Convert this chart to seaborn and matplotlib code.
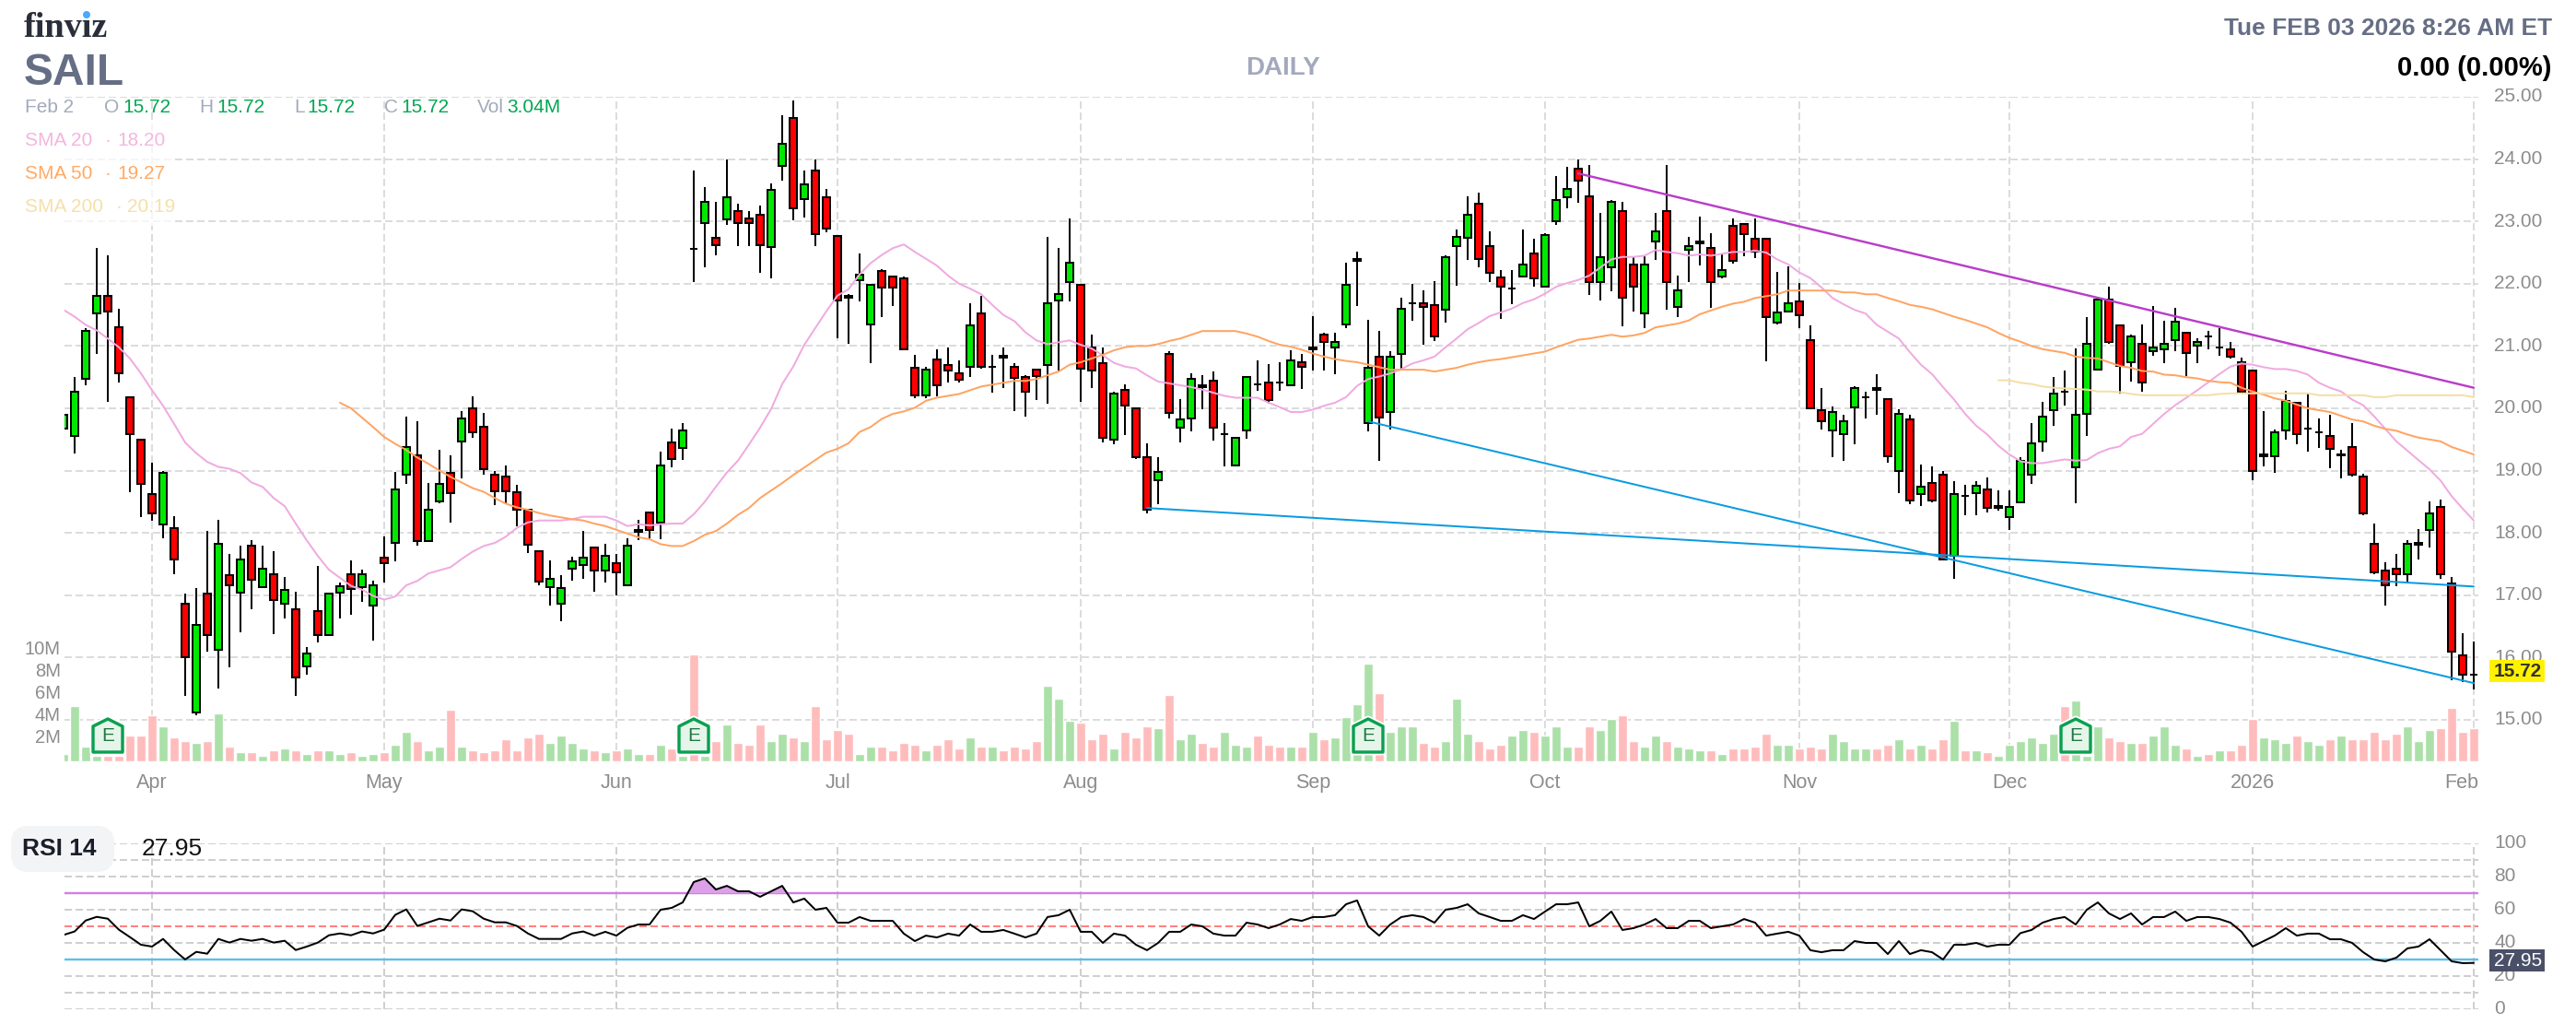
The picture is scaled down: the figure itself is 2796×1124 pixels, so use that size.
import numpy as np
import pandas as pd
import matplotlib
matplotlib.use('Agg')
import matplotlib.pyplot as plt
import matplotlib.patheffects as pe
from matplotlib.patches import Polygon, Rectangle, FancyBboxPatch, Circle
from matplotlib.transforms import ScaledTranslation, IdentityTransform
import seaborn as sns

# Daily prices
OPEN = [
    19.67,19.56,20.47,21.53,21.80,21.30,20.18,19.50,18.62,18.14,
    18.08,16.87,15.12,17.02,16.13,17.32,17.04,17.79,17.13,17.34,
    16.87,16.78,15.86,16.75,16.36,17.04,17.34,17.13,16.84,17.61,
    17.84,18.94,19.24,17.87,18.51,18.97,19.47,20.00,19.71,18.94,
    18.91,18.65,18.38,17.70,17.13,16.87,17.43,17.49,17.76,17.40,
    17.52,17.16,18.05,18.33,18.17,19.46,19.37,22.56,22.97,22.74,
    23.03,23.16,23.04,23.10,22.59,23.89,24.66,23.36,23.81,23.39,
    22.77,21.80,22.06,21.35,22.21,22.12,22.09,20.65,20.20,20.79,
    20.70,20.56,20.67,21.53,20.67,20.85,20.67,20.50,20.62,20.70,
    21.73,22.03,21.98,20.97,20.73,19.49,20.29,20.00,19.21,18.85,
    20.88,19.69,19.84,20.37,20.44,19.58,19.09,19.64,20.38,20.41,
    20.41,20.37,20.74,20.97,21.18,20.97,21.35,22.40,19.76,20.83,
    19.94,20.88,21.68,21.68,21.66,21.59,22.60,22.74,23.28,22.60,
    22.10,21.92,22.12,22.48,21.95,23.01,23.39,23.84,23.40,22.03,
    22.27,23.16,22.31,21.53,22.68,23.16,21.62,22.54,22.68,22.57,
    22.12,22.93,22.96,22.72,22.72,21.38,21.56,21.71,21.09,19.97,
    19.64,19.58,20.02,20.18,20.32,20.15,19.00,19.82,18.62,18.80,
    18.94,17.63,18.59,18.64,18.70,18.43,18.26,18.49,18.94,19.47,
    19.97,20.27,19.05,19.91,20.62,21.75,21.33,20.74,21.04,20.92,
    20.95,21.09,21.22,21.00,21.16,20.98,20.95,20.74,20.60,19.26,
    19.23,19.65,20.09,19.67,19.62,19.56,19.26,19.38,18.91,17.82,
    17.40,17.43,17.34,17.84,18.05,18.41,17.19,16.03,15.72]
CLOSE = [
    19.89,20.27,21.25,21.80,21.56,20.56,19.59,18.79,18.32,18.97,
    17.58,16.01,16.52,16.36,17.82,17.16,17.58,17.25,17.43,16.93,
    17.08,15.68,16.07,16.36,17.02,17.14,17.10,17.34,17.16,17.52,
    18.70,19.38,17.87,18.38,18.79,18.64,19.83,19.62,19.02,18.67,
    18.67,18.37,17.81,17.22,17.26,17.11,17.55,17.61,17.40,17.64,
    17.37,17.79,18.02,18.05,19.09,19.19,19.64,22.56,23.31,22.62,
    23.39,22.98,22.98,22.62,23.51,24.25,23.21,23.60,22.80,22.88,
    21.73,21.77,22.15,21.98,21.94,21.94,20.94,20.20,20.62,20.37,
    20.61,20.46,21.33,20.67,20.67,20.82,20.49,20.26,20.52,21.68,
    21.83,22.33,20.64,20.61,19.52,20.23,20.05,19.22,18.37,18.98,
    19.93,19.82,20.47,20.34,19.69,19.58,19.52,20.50,20.38,20.14,
    20.41,20.77,20.67,20.94,21.06,21.06,21.98,22.37,20.65,19.85,
    20.83,21.60,21.68,21.62,21.15,22.42,22.75,23.10,22.39,22.18,
    21.95,21.92,22.31,22.09,22.78,23.34,23.52,23.66,22.03,22.42,
    23.31,21.77,21.95,22.31,22.84,22.03,21.89,22.60,22.65,22.03,
    22.22,22.36,22.80,22.51,21.47,21.54,21.68,21.50,20.00,19.79,
    19.94,19.79,20.33,20.18,20.29,19.23,19.91,18.52,18.74,18.52,
    17.57,18.62,18.59,18.76,18.40,18.40,18.41,19.15,19.44,19.86,
    20.24,20.27,19.89,21.04,21.75,21.06,20.68,21.16,20.41,20.98,
    21.04,21.39,20.89,21.07,21.16,20.98,20.83,20.27,19.00,19.23,
    19.62,20.12,19.59,19.67,19.62,19.35,19.24,18.93,18.32,17.37,
    17.16,17.34,17.82,17.81,18.32,17.34,16.09,15.73,15.72]
HIGH = [
    19.89,20.51,21.28,22.58,22.46,21.60,20.18,19.50,19.12,19.00,
    18.27,17.02,17.11,18.03,18.21,17.67,17.79,17.88,17.79,17.70,
    17.29,17.05,16.17,17.47,17.02,17.20,17.56,17.41,17.23,17.94,
    18.98,19.86,19.80,18.80,19.33,19.24,19.95,20.19,19.92,19.00,
    19.09,18.77,18.38,17.70,17.56,17.32,17.62,18.03,17.76,17.82,
    17.67,17.91,18.21,18.33,19.31,19.68,19.76,23.81,23.55,23.31,
    23.99,23.28,23.16,23.25,23.61,24.70,24.94,23.81,23.99,23.52,
    22.77,21.83,22.48,22.00,22.24,22.12,22.12,20.86,20.67,20.95,
    20.98,20.77,21.68,21.80,20.86,20.98,20.73,20.53,20.62,22.75,
    22.57,23.04,22.00,21.18,20.98,20.26,20.38,20.00,19.44,19.22,
    20.91,20.15,20.56,20.53,20.59,19.76,19.52,20.50,20.77,20.71,
    20.74,20.93,20.87,21.48,21.21,21.21,22.34,22.52,21.42,21.25,
    20.92,21.78,21.99,21.90,22.04,22.45,22.87,23.40,23.46,22.84,
    22.22,22.22,22.87,22.72,22.81,23.73,23.88,24.00,23.91,23.14,
    23.34,23.32,22.43,22.46,23.14,23.91,22.13,22.75,23.08,22.81,
    22.49,23.05,22.96,23.05,22.72,22.19,22.28,22.01,21.33,20.33,
    20.03,19.89,20.35,20.27,20.54,20.15,19.98,19.89,19.10,19.07,
    19.00,18.83,18.77,18.83,18.89,18.68,18.68,19.21,19.77,20.10,
    20.51,20.60,20.96,21.46,21.75,21.96,21.33,21.19,21.34,21.64,
    21.40,21.61,21.22,21.13,21.25,21.28,21.07,20.81,20.60,19.95,
    19.66,20.28,20.09,20.25,19.83,19.89,19.33,19.77,18.95,18.15,
    17.53,17.67,17.88,18.06,18.50,18.53,17.29,16.39,16.25]
LOW = [
    19.67,19.28,20.37,20.88,20.11,20.42,18.66,18.25,18.19,17.92,
    17.33,15.38,15.08,16.09,15.50,15.85,16.41,16.77,17.13,16.38,
    16.62,15.38,15.73,16.24,16.36,16.62,16.68,16.89,16.27,17.21,
    17.54,18.78,17.80,17.87,18.48,18.16,18.87,19.52,18.93,18.45,
    18.46,18.10,17.68,17.16,16.83,16.59,17.24,17.27,17.06,17.21,
    17.00,17.16,17.89,17.92,17.90,19.05,19.17,22.02,22.26,22.46,
    22.94,22.61,22.61,22.17,22.08,23.65,23.02,23.06,22.61,22.82,
    21.13,21.04,21.72,20.72,21.46,21.64,20.94,20.16,20.16,20.19,
    20.42,20.42,20.51,20.63,20.25,20.33,19.95,19.86,20.13,20.07,
    20.60,21.72,20.10,20.33,19.45,19.42,19.57,19.18,18.32,18.46,
    19.83,19.45,19.63,19.98,19.48,19.07,19.09,19.51,20.28,20.07,
    20.28,20.37,20.31,20.61,20.61,20.55,21.29,21.64,19.63,19.16,
    19.66,20.62,21.40,21.02,21.08,21.37,21.97,22.38,22.26,22.02,
    21.43,21.67,22.12,21.96,21.95,22.94,23.21,23.30,21.82,21.73,
    21.88,21.32,21.55,21.29,22.38,21.58,21.46,22.02,22.29,21.61,
    22.09,22.32,22.44,22.41,20.75,21.34,21.56,21.29,20.00,19.66,
    19.22,19.16,19.42,19.84,19.90,19.13,18.64,18.46,18.43,18.49,
    17.57,17.27,18.28,18.28,18.33,18.36,18.04,18.49,18.78,19.31,
    19.72,20.05,18.48,19.55,20.62,21.03,20.23,20.43,20.26,20.85,
    20.73,20.91,20.52,20.73,20.94,20.85,20.80,20.23,18.84,19.07,
    18.96,19.49,19.43,19.31,19.37,19.04,18.87,18.90,18.28,17.33,
    16.83,17.15,17.21,17.57,17.77,17.27,15.64,15.61,15.49]

# Volume in millions, g = up day, p = down day
VOLUME = [
    .67,5.0,1.33,.5,.5,.5,2.33,2.33,4.17,3.17,
    2.17,1.83,1.67,1.83,4.33,1.33,.83,.83,.5,1.0,
    1.17,1.0,.67,1.0,1.0,.67,.83,.5,.67,.83,
    1.5,2.67,1.83,1.0,1.33,4.67,1.33,1.0,.83,1.0,
    2.0,1.0,2.17,2.5,1.67,2.33,1.67,1.17,1.0,.83,
    1.0,1.17,.67,.67,1.5,1.17,.5,9.67,.5,1.83,
    3.33,1.67,1.5,3.33,1.83,2.5,2.17,1.83,5.0,2.0,
    2.83,2.5,.67,1.33,1.33,1.0,1.67,1.5,1.0,1.5,
    2.0,1.17,2.17,1.33,1.33,1.0,1.33,1.17,1.83,6.83,
    5.67,3.67,3.5,2.0,2.5,1.17,2.67,2.17,3.17,3.0,
    6.0,2.0,2.5,1.67,1.33,2.67,1.5,1.33,2.33,1.5,
    1.33,1.33,1.33,2.67,2.0,2.17,4.0,5.17,8.83,6.17,
    2.67,3.17,3.17,1.67,1.33,1.83,5.67,2.5,1.83,1.17,
    1.5,2.33,2.83,2.67,2.33,3.17,1.33,1.33,3.17,2.83,
    3.83,4.17,1.83,1.33,2.33,1.83,1.33,1.17,1.0,1.0,
    .67,1.17,1.17,1.33,2.5,1.5,1.5,1.17,1.33,1.17,
    2.5,1.83,1.17,1.17,1.17,1.5,2.0,1.17,1.5,1.17,
    2.0,3.67,1.0,1.0,.83,.5,1.5,1.83,2.17,1.67,
    2.5,5.0,5.5,.5,3.17,2.17,1.83,1.67,1.67,2.33,
    3.17,1.5,1.17,.5,.67,1.0,1.0,1.5,3.83,2.17,
    2.0,1.67,2.33,1.83,1.5,2.0,2.33,2.0,2.0,2.67,
    2.0,2.5,3.17,1.83,2.83,3.0,4.83,2.67,3.04]
VOL_DIR = list(
    'ggggpppppg' 'ppgpgpgpgp' 'gpgpggpggp' 'ggpggpgppp' 'ppppggggpg'
    'pggpgpgpgp' 'gpppggpgpp' 'ppggppppgp' 'ppgpgppppg' 'ggpppgpppg'
    'pggppgggpp' 'pgpgpggggp' 'gggppgggpp' 'pggpgggppg' 'gppggpgggp'
    'gppppggppp' 'ggggppgpgp' 'pgpgpggggg' 'gpgggppgpg' 'ggpgpgpppg'
    'ggpggpgppp' 'ppgggpppp')

SMA20 = [
    21.58,21.47,21.34,21.25,21.12,20.98,20.80,20.56,20.29,20.04,
    19.75,19.45,19.28,19.14,19.06,19.03,18.96,18.81,18.74,18.56,
    18.43,18.15,17.88,17.63,17.41,17.28,17.15,17.09,16.99,16.93,
    16.98,17.16,17.23,17.35,17.40,17.45,17.58,17.70,17.79,17.84,
    17.94,18.08,18.17,18.20,18.20,18.20,18.22,18.26,18.26,18.26,
    18.20,18.11,18.14,18.12,18.14,18.15,18.15,18.30,18.50,18.74,
    18.97,19.16,19.42,19.69,19.99,20.39,20.67,21.02,21.29,21.56,
    21.81,21.91,22.15,22.33,22.46,22.57,22.63,22.51,22.40,22.29,
    22.13,22.00,21.92,21.83,21.66,21.50,21.40,21.22,21.09,21.03,
    21.06,21.09,21.02,20.96,20.85,20.73,20.67,20.64,20.53,20.43,
    20.40,20.37,20.34,20.30,20.25,20.20,20.17,20.17,20.17,20.09,
    20.02,19.94,19.94,19.98,20.04,20.09,20.18,20.36,20.47,20.51,
    20.56,20.63,20.72,20.77,20.83,20.98,21.12,21.27,21.37,21.48,
    21.54,21.60,21.69,21.75,21.84,21.95,22.01,22.06,22.13,22.26,
    22.39,22.43,22.43,22.45,22.54,22.51,22.49,22.45,22.47,22.45,
    22.48,22.51,22.51,22.53,22.50,22.39,22.31,22.18,22.09,21.94,
    21.77,21.67,21.58,21.52,21.34,21.23,21.12,20.90,20.70,20.55,
    20.34,20.14,19.91,19.72,19.58,19.40,19.26,19.15,19.12,19.12,
    19.15,19.18,19.16,19.17,19.28,19.35,19.39,19.54,19.59,19.75,
    19.91,20.05,20.17,20.29,20.42,20.55,20.67,20.72,20.70,20.66,
    20.63,20.63,20.60,20.54,20.41,20.33,20.27,20.14,20.05,19.87,
    19.67,19.47,19.32,19.17,19.02,18.84,18.59,18.39,18.20]
SMA50_START = 25
SMA50 = [
    20.09,20.00,19.85,19.70,19.54,
    19.43,19.33,19.21,19.11,19.00,18.90,18.81,18.72,18.66,18.56,
    18.47,18.41,18.37,18.32,18.28,18.25,18.22,18.20,18.15,18.11,
    18.05,17.99,17.93,17.90,17.82,17.79,17.79,17.87,17.97,18.03,
    18.15,18.29,18.40,18.56,18.68,18.80,18.93,19.05,19.17,19.29,
    19.35,19.44,19.62,19.70,19.83,19.91,19.95,20.01,20.12,20.17,
    20.20,20.23,20.29,20.35,20.38,20.41,20.44,20.44,20.47,20.53,
    20.59,20.70,20.74,20.80,20.86,20.93,20.98,21.00,21.00,21.03,
    21.08,21.12,21.18,21.24,21.24,21.24,21.24,21.20,21.15,21.08,
    21.02,20.99,20.94,20.88,20.83,20.79,20.76,20.74,20.70,20.66,
    20.62,20.62,20.62,20.62,20.59,20.62,20.65,20.70,20.74,20.77,
    20.79,20.82,20.85,20.88,20.91,20.98,21.04,21.10,21.12,21.15,
    21.18,21.15,21.17,21.21,21.30,21.33,21.36,21.41,21.51,21.57,
    21.63,21.68,21.71,21.77,21.80,21.83,21.89,21.89,21.89,21.89,
    21.89,21.86,21.86,21.83,21.83,21.77,21.72,21.66,21.63,21.59,
    21.53,21.47,21.42,21.36,21.30,21.21,21.13,21.07,21.00,20.95,
    20.92,20.89,20.83,20.81,20.80,20.74,20.68,20.65,20.60,20.59,
    20.54,20.53,20.50,20.48,20.44,20.42,20.41,20.33,20.27,20.22,
    20.16,20.12,20.06,20.00,19.97,19.94,19.88,19.82,19.79,19.72,
    19.67,19.64,19.58,19.53,19.50,19.47,19.38,19.32,19.26]
SMA200_START = 175
SMA200 = [
    20.45,20.45,20.41,20.39,20.35,
    20.33,20.32,20.31,20.30,20.27,20.27,20.26,20.23,20.21,20.21,
    20.21,20.21,20.21,20.21,20.21,20.23,20.24,20.24,20.24,20.24,
    20.24,20.24,20.24,20.24,20.21,20.21,20.21,20.21,20.21,20.18,
    20.18,20.21,20.21,20.21,20.21,20.21,20.21,20.21,20.18]
RSI = [
    44.8,46.9,53.5,55.7,54.6,48.0,43.5,38.9,37.8,42.4,
    35.7,30.0,34.6,33.5,42.4,40.2,42.4,41.3,42.4,40.2,
    41.3,35.7,37.8,40.2,44.6,45.7,44.6,46.9,45.7,48.0,
    56.9,60.2,50.2,52.4,54.6,53.5,60.2,59.1,54.6,52.4,
    52.4,50.2,45.7,42.4,42.4,42.4,45.7,46.9,44.4,46.7,
    44.4,49.1,51.1,51.1,60.0,61.1,64.4,76.7,78.9,72.2,
    74.4,71.1,71.1,67.8,71.1,74.4,64.4,66.7,60.0,61.1,
    52.2,52.2,55.6,53.3,53.3,53.3,45.6,41.1,44.4,43.3,
    45.6,44.4,51.1,46.7,46.7,47.8,45.6,43.3,45.6,55.6,
    56.7,60.0,46.7,46.7,40.0,45.6,44.4,38.9,35.6,40.0,
    46.7,46.7,51.1,50.0,45.6,44.4,44.4,52.2,51.1,48.9,
    51.1,54.4,53.3,55.6,55.6,56.7,63.3,65.6,50.0,44.4,
    51.1,55.6,56.7,55.6,52.2,60.0,61.1,63.3,57.8,55.6,
    53.3,53.3,56.7,54.4,58.9,63.3,63.3,64.4,50.0,53.3,
    58.9,47.8,48.9,51.1,54.4,48.9,48.9,53.3,53.3,48.9,
    50.0,51.1,54.4,52.2,44.4,45.6,46.7,44.4,35.6,34.4,
    35.6,35.6,41.1,40.0,40.0,33.3,41.1,33.3,35.6,34.4,
    30.0,38.9,38.9,40.0,37.8,38.9,38.9,45.9,47.8,52.2,
    54.4,55.6,51.1,60.0,64.4,57.8,54.4,57.8,51.1,55.6,
    55.6,58.9,53.3,55.6,55.6,54.4,52.2,46.7,37.8,41.1,
    44.4,48.9,44.4,45.6,45.6,42.2,42.2,40.0,34.4,30.0,
    28.9,31.1,36.7,37.8,42.2,35.6,28.9,27.8,27.95]

# Trend lines drawn on the chart: bar index and price at each end
TREND_PURPLE = ([137, 218], [23.77, 20.33])
TREND_BLUE_A = ([98, 218], [18.40, 17.14])
TREND_BLUE_B = ([118, 218], [19.79, 15.59])

MONTH_IDX = [8, 29, 50, 70, 92, 113, 134, 157, 176, 198, 218]
MONTH_LABELS = ['Apr', 'May', 'Jun', 'Jul', 'Aug', 'Sep', 'Oct', 'Nov', 'Dec', '2026', 'Feb']
EARNINGS_IDX = [4, 57, 118, 182]
PRICE_TICKS = [15, 16, 17, 18, 19, 20, 21, 22, 23, 24, 25]
VOL_TICKS = [2, 4, 6, 8, 10]
RSI_TICKS = [0, 10, 20, 30, 40, 50, 60, 70, 80, 90, 100]

W, H = 2796, 1124
GREEN, RED = '#00e800', '#ff0000'
GRAY = '#8c8c8c'

sns.set_theme(style='white')
plt.rcParams['font.family'] = ['Liberation Sans', 'DejaVu Sans']
plt.rcParams['lines.scale_dashes'] = False

df = pd.DataFrame({'open': OPEN, 'high': HIGH, 'low': LOW, 'close': CLOSE,
                   'volume': VOLUME, 'dir': VOL_DIR, 'sma20': SMA20, 'rsi': RSI})
df['i'] = np.arange(len(df))


def pt(px):
    return px * 0.72


def rect(x0, y0, x1, y1):
    # axes rectangle from pixel edges, y measured from the top
    return [x0 / W, 1 - y1 / H, (x1 - x0) / W, (y1 - y0) / H]


def fx(x):
    return x / W


def fy(y):
    return 1 - y / H


def shift(ax_labels, dx, dy, fig):
    off = ScaledTranslation(dx / 100, dy / 100, fig.dpi_scale_trans)
    for t in ax_labels:
        t.set_transform(t.get_transform() + off)


fig = plt.figure(figsize=(W / 100, H / 100), dpi=100, facecolor='white')
main = rect(70, 105, 2690, 826)
xlim = (1 / 12, 2621 / 12)
ylim_price = (25 - 721 / 67.6, 25)
dash = (0, (pt(8), pt(4)))

# Grid layer under the volume bars
ax_grid = fig.add_axes(main, zorder=0)
ax_grid.grid(True, color='#dcdcdc', linewidth=pt(2), linestyle=dash)
ax_grid.set_axisbelow(True)

# Volume layer
ax_vol = fig.add_axes(main, zorder=1)
ax_vol.patch.set_visible(False)
sns.barplot(data=df, x='i', y='volume', hue='dir', palette={'g': '#abe0a8', 'p': '#ffbcbc'},
            native_scale=True, dodge=False, width=0.85, saturation=1, legend=False, ax=ax_vol)
ax_vol.set_ylim(0, 721 / 12)
ax_vol.set_yticks(VOL_TICKS)
ax_vol.set_yticklabels([f'{v}M' for v in VOL_TICKS], fontsize=14.5, color=GRAY)
ax_vol.tick_params(axis='y', length=0, pad=pt(4))
ax_vol.set_xticks([])
ax_vol.set_xlabel('')
ax_vol.set_ylabel('')
shift(ax_vol.get_yticklabels(), 0, 4, fig)

# Candles
ax = fig.add_axes(main, zorder=2)
ax.patch.set_visible(False)
ax.vlines(df['i'], df['low'], df['high'], color='black', linewidth=pt(2), zorder=2)
body_bottom = df[['open', 'close']].min(axis=1)
body_height = (df['close'] - df['open']).abs()
colors = np.where(df['close'] >= df['open'], GREEN, RED)
ax.bar(df['i'], body_height, bottom=body_bottom, width=0.63, color=colors,
       edgecolor='black', linewidth=pt(2), zorder=3)

sns.lineplot(x=df['i'], y=df['sma20'], color='#f0aae0', linewidth=pt(2), ax=ax, zorder=4)
sns.lineplot(x=np.arange(len(SMA50)) + SMA50_START, y=SMA50, color='#ffa463', linewidth=pt(2), ax=ax, zorder=4)
sns.lineplot(x=np.arange(len(SMA200)) + SMA200_START, y=SMA200, color='#f5dfa6', linewidth=pt(2), ax=ax, zorder=4)
sns.lineplot(x=TREND_PURPLE[0], y=TREND_PURPLE[1], color='#b93cc9', linewidth=pt(2.4), ax=ax, zorder=5)
sns.lineplot(x=TREND_BLUE_A[0], y=TREND_BLUE_A[1], color='#0a9be0', linewidth=pt(2), ax=ax, zorder=5)
sns.lineplot(x=TREND_BLUE_B[0], y=TREND_BLUE_B[1], color='#0a9be0', linewidth=pt(2), ax=ax, zorder=5)

ax.yaxis.tick_right()
ax.set_yticks(PRICE_TICKS)
ax.set_yticklabels([f'{p:.2f}' for p in PRICE_TICKS], fontsize=15, color=GRAY)
ax.tick_params(axis='y', length=0, pad=pt(17))
ax.set_xticks([])
ax.set_xlabel('')
ax.set_ylabel('')
shift(ax.get_yticklabels(), 0, 2, fig)

ax_grid.set_yticks(PRICE_TICKS)
ax_grid.set_yticklabels([])
ax_grid.set_xticks(MONTH_IDX)
ax_grid.set_xticklabels(MONTH_LABELS, fontsize=15.5, color=GRAY)
ax_grid.tick_params(axis='x', length=0, pad=pt(13))
ax_grid.tick_params(axis='y', length=0)
feb = ax_grid.get_xticklabels()[-1]
feb.set_ha('right')
shift([feb], 5, 0, fig)

for a in (ax_grid, ax_vol, ax):
    a.set_xlim(*xlim)
    sns.despine(ax=a, left=True, bottom=True, right=True, top=True)
ax_grid.set_ylim(*ylim_price)
ax.set_ylim(*ylim_price)

# RSI pane
ax_rsi = fig.add_axes(rect(70, 915, 2690, 1095), zorder=2)
ax_rsi.patch.set_visible(False)
ax_rsi.grid(True, color='#cfcfcf', linewidth=pt(2), linestyle=dash)
ax_rsi.set_axisbelow(True)
ax_rsi.axhline(70, color='#d080e0', linewidth=pt(2.4), zorder=2)
ax_rsi.axhline(30, color='#62bce8', linewidth=pt(2.4), zorder=2)
ax_rsi.axhline(50, color='#ff8080', linewidth=pt(2), linestyle=dash, zorder=2)
rsi = np.array(RSI)
ax_rsi.fill_between(df['i'], 70, rsi, where=rsi > 70, interpolate=True, color='#dca0e8', linewidth=0, zorder=2)
sns.lineplot(x=df['i'], y=rsi, color='black', linewidth=pt(2), ax=ax_rsi, zorder=4)
ax_rsi.set_xlim(*xlim)
ax_rsi.set_ylim(0, 100)
ax_rsi.yaxis.tick_right()
ax_rsi.set_yticks(RSI_TICKS)
ax_rsi.set_yticklabels([str(v) if v % 20 == 0 else '' for v in RSI_TICKS], fontsize=15, color=GRAY)
ax_rsi.set_xticks(MONTH_IDX)
ax_rsi.set_xticklabels([])
ax_rsi.tick_params(length=0, pad=pt(17))
ax_rsi.set_xlabel('')
ax_rsi.set_ylabel('')
shift(ax_rsi.get_yticklabels(), 0, 2, fig)
sns.despine(ax=ax_rsi, left=True, bottom=True, right=True, top=True)

# Earnings badges
fig.canvas.draw()
for i in EARNINGS_IDX:
    cx = ax.transData.transform((i, 20))[0]
    verts = [(cx - 16, H - 816), (cx + 16, H - 816), (cx + 16, H - 788), (cx, H - 780), (cx - 16, H - 788)]
    badge = Polygon(verts, closed=True, facecolor='#e6f5ea', edgecolor='#0aa050', linewidth=pt(3.4),
                    joinstyle='round', transform=IdentityTransform(), zorder=6,
                    path_effects=[pe.withStroke(linewidth=pt(7), foreground='white')])
    fig.add_artist(badge)
    fig.text(cx / W, fy(799), 'E', fontsize=15, color='#1f7a42', ha='center', va='center', zorder=7)

# Header text
fig.text(fx(26), fy(40), 'finviz', family='Liberation Serif', fontweight='bold', fontsize=27.5,
         color='#2a2e3a', va='baseline', zorder=10)
fig.add_artist(Circle((94, H - 16), 4, facecolor='#4aa8ff', edgecolor='none',
                      transform=IdentityTransform(), zorder=11))
fig.text(fx(26), fy(92), 'SAIL', fontweight='bold', fontsize=34.5, color='#666e85', va='baseline', zorder=10)
fig.text(fx(1392), fy(81), 'DAILY', fontweight='bold', fontsize=20, color='#a3a9bd', ha='center', va='baseline', zorder=10)
fig.text(fx(2770), fy(38), 'Tue FEB 03 2026 8:26 AM ET', fontweight='bold', fontsize=19, color='#666e85',
         ha='right', va='baseline', zorder=10)
fig.text(fx(2769), fy(82), '0.00 (0.00%)', fontweight='bold', fontsize=21, color='black',
         ha='right', va='baseline', zorder=10)

# Legend rows, with the washed out background behind them
fig.add_artist(Rectangle((70, H - 245), 120, 113, facecolor='white', alpha=0.72, edgecolor='none',
                         transform=IdentityTransform(), zorder=8))
LABEL, NUM = '#a3a9bd', '#00a651'
for x, s, c in [(27, 'Feb 2', LABEL), (112.5, 'O', LABEL), (133, '15.72', NUM), (216.5, 'H', LABEL),
                (235, '15.72', NUM), (319, 'L', LABEL), (333, '15.72', NUM), (416.5, 'C', LABEL),
                (435, '15.72', NUM), (518, 'Vol', LABEL), (550, '3.04M', NUM)]:
    fig.text(fx(x), fy(117), s, fontsize=15, color=c, va='center', zorder=10)
for y, name, dotx, valx, val, c in [(153, 'SMA 20', 114, 127, '18.20', '#f5b5e0'),
                                    (189, 'SMA 50', 114, 127, '19.27', '#ffaa66'),
                                    (225, 'SMA 200', 125, 138, '20.19', '#f5e0a8')]:
    fig.text(fx(27), fy(y), name, fontsize=15, color=c, va='center', zorder=10)
    fig.text(fx(dotx), fy(y), '·', fontsize=15, color=c, va='center', zorder=10)
    fig.text(fx(valx), fy(y), val, fontsize=15, color=c, va='center', zorder=10)

# Last price and last RSI tags
fig.add_artist(Rectangle((2702, H - 740), 60, 24, facecolor='#fff200', edgecolor='none',
                         transform=IdentityTransform(), zorder=8))
fig.text(fx(2707), fy(728), '15.72', fontsize=15, fontweight='bold', color='#333333', va='center', zorder=10)
fig.add_artist(Rectangle((2702, H - 1054), 60, 24, facecolor='#4a5068', edgecolor='none',
                         transform=IdentityTransform(), zorder=8))
fig.text(fx(2707), fy(1042), '27.95', fontsize=15, color='white', va='center', zorder=10)

# RSI caption
fig.add_artist(FancyBboxPatch((20, H - 938), 96, 34, boxstyle='round,pad=0,rounding_size=10',
                              mutation_aspect=1, facecolor='#f3f4f6', edgecolor='#f3f4f6', linewidth=pt(16),
                              transform=IdentityTransform(), zorder=8))
fig.text(fx(24.5), fy(921), 'RSI 14', fontsize=19, fontweight='bold', color='#1a1e2a', va='center', zorder=10)
fig.text(fx(154), fy(921), '27.95', fontsize=19, color='#111111', va='center', zorder=10)

fig.savefig('out.png', dpi=100)
